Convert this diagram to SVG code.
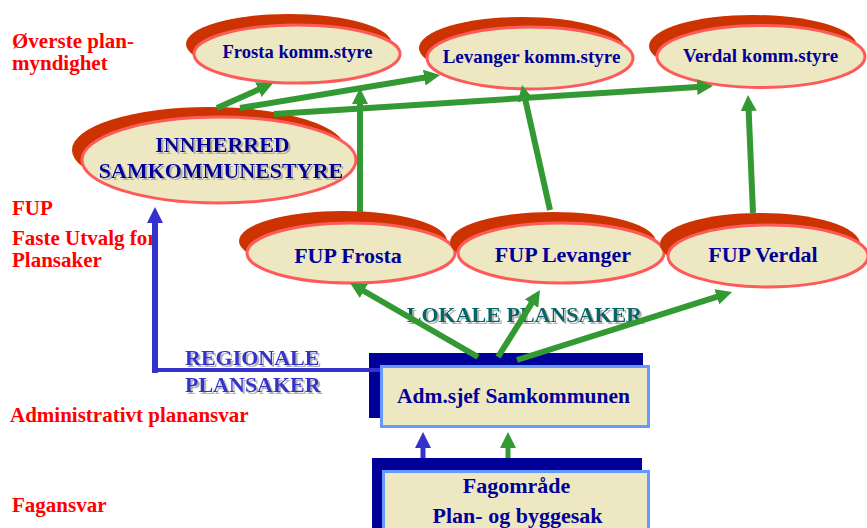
<svg xmlns="http://www.w3.org/2000/svg" width="867" height="528" viewBox="0 0 867 528">
<style>
.bg{fill:#ffffff}
.sh{fill:#CC3300}
.el{fill:#EEE8C2;stroke:#FF5A5A;stroke-width:3}
.t{font-family:"Liberation Serif","Times New Roman",serif;font-weight:bold}
.nt{fill:#000099;text-anchor:middle}
.lab{fill:#FF0000;font-size:21px}
.tshadow{filter:url(#txtsh)}
.bsh{fill:#000099}
.box{fill:#EEE8C2;stroke:#6699FF;stroke-width:3}
.g{stroke:#339933;stroke-width:6;fill:none}
.gs{stroke:#339933;stroke-width:5;fill:none}
.b{stroke:#3333CC;fill:none}
</style>
<defs>
<filter id="txtsh" x="-5%" y="-20%" width="115%" height="150%">
<feDropShadow dx="2" dy="2" stdDeviation="0.4" flood-color="#A0A0A0" flood-opacity="0.8"/>
</filter>
<marker id="ag" viewBox="0 0 16 16" refX="4" refY="8" markerWidth="16" markerHeight="16" markerUnits="userSpaceOnUse" orient="auto">
<path d="M0,0 L16,8 L0,16 z" fill="#339933"/>
</marker>
<marker id="ab" viewBox="0 0 16 16" refX="4" refY="8" markerWidth="16" markerHeight="16" markerUnits="userSpaceOnUse" orient="auto">
<path d="M0,0 L16,8 L0,16 z" fill="#3333CC"/>
</marker>
</defs>
<rect class="bg" x="0" y="0" width="867" height="528"/>

<g id="labels" class="t lab">
<text x="12" y="48">Øverste plan-</text>
<text x="12" y="70">myndighet</text>
<text x="12" y="215">FUP</text>
<text x="12" y="245">Faste Utvalg for</text>
<text x="12" y="267">Plansaker</text>
<text x="10" y="422">Administrativt planansvar</text>
<text x="12" y="512">Fagansvar</text>
</g>

<g id="frosta-komm">
<ellipse class="sh" cx="289" cy="44" rx="103" ry="30"/>
<ellipse class="el" cx="297" cy="54" rx="103" ry="29"/>
<text class="t nt" x="297.5" y="58" font-size="18.6">Frosta komm.styre</text>
</g>
<g id="levanger-komm">
<ellipse class="sh" cx="522" cy="48" rx="103" ry="31"/>
<ellipse class="el" cx="530" cy="58" rx="103" ry="31"/>
<text class="t nt" x="531.5" y="63" font-size="19">Levanger komm.styre</text>
</g>
<g id="verdal-komm">
<ellipse class="sh" cx="753" cy="46" rx="104" ry="31"/>
<ellipse class="el" cx="761" cy="56.5" rx="104" ry="31"/>
<text class="t nt" x="760.5" y="62" font-size="19">Verdal komm.styre</text>
</g>
<g id="innherred">
<ellipse class="sh" cx="209" cy="150" rx="137" ry="43"/>
<ellipse class="el" cx="219" cy="160" rx="137" ry="43"/>
<g class="t tshadow" font-size="22" text-anchor="middle" fill="#000099">
<text x="222.5" y="152">INNHERRED</text>
<text x="221" y="178">SAMKOMMUNESTYRE</text>
</g>
</g>
<g id="fup-frosta">
<ellipse class="sh" cx="343" cy="241" rx="104" ry="30"/>
<ellipse class="el" cx="351" cy="253" rx="104" ry="30"/>
<text class="t nt" x="348" y="263" font-size="22">FUP Frosta</text>
</g>
<g id="fup-levanger">
<ellipse class="sh" cx="553" cy="242" rx="103" ry="30"/>
<ellipse class="el" cx="561" cy="253" rx="103" ry="30"/>
<text class="t nt" x="563" y="262" font-size="22">FUP Levanger</text>
</g>
<g id="fup-verdal">
<ellipse class="sh" cx="760" cy="244" rx="100" ry="31"/>
<ellipse class="el" cx="768" cy="256" rx="100" ry="31"/>
<text class="t nt" x="763" y="262" font-size="22">FUP Verdal</text>
</g>

<g id="adm-sjef">
<rect class="bsh" x="369" y="353" width="274" height="65"/>
<rect class="box" x="381.5" y="366.5" width="267" height="60"/>
<text class="t nt" x="513.5" y="403" font-size="21.5">Adm.sjef Samkommunen</text>
</g>
<g id="fagomrade">
<rect class="bsh" x="372" y="458" width="270" height="80"/>
<rect class="box" x="383.5" y="471.5" width="265" height="70"/>
<text class="t nt" x="516.5" y="493" font-size="22">Fagområde</text>
<text class="t nt" x="517.5" y="523" font-size="22">Plan- og byggesak</text>
</g>

<g id="connector-labels" class="t tshadow" font-size="22">
<text fill="#006666" x="524.5" y="322" text-anchor="middle">LOKALE PLANSAKER</text>
<text fill="#3333CC" x="185" y="365">REGIONALE</text>
<text fill="#3333CC" x="185" y="392">PLANSAKER</text>
</g>

<g id="connectors">
<line class="g" x1="217" y1="108" x2="262" y2="88" marker-end="url(#ag)"/>
<line class="g" x1="240" y1="108" x2="428.2" y2="77" marker-end="url(#ag)"/>
<line class="g" x1="274" y1="114" x2="701" y2="86.8" marker-end="url(#ag)"/>
<line class="g" x1="360" y1="212" x2="360" y2="100" marker-end="url(#ag)"/>
<line class="g" x1="550" y1="210" x2="524.6" y2="96.7" marker-end="url(#ag)"/>
<line class="g" x1="753" y1="213" x2="748.5" y2="107" marker-end="url(#ag)"/>
<line class="g" x1="478" y1="357" x2="360.4" y2="289" marker-end="url(#ag)"/>
<line class="g" x1="498" y1="357" x2="533.6" y2="300.2" marker-end="url(#ag)"/>
<line class="g" x1="517" y1="360" x2="720.6" y2="295.6" marker-end="url(#ag)"/>
<line class="gs" x1="508" y1="458" x2="508" y2="444" marker-end="url(#ag)"/>
<line class="b" stroke-width="4" x1="380" y1="370" x2="153" y2="370"/>
<line class="b" stroke-width="6" x1="155" y1="373" x2="155" y2="219" marker-end="url(#ab)"/>
<line class="b" stroke-width="5" x1="423" y1="458" x2="423" y2="444" marker-end="url(#ab)"/>
</g>
</svg>
